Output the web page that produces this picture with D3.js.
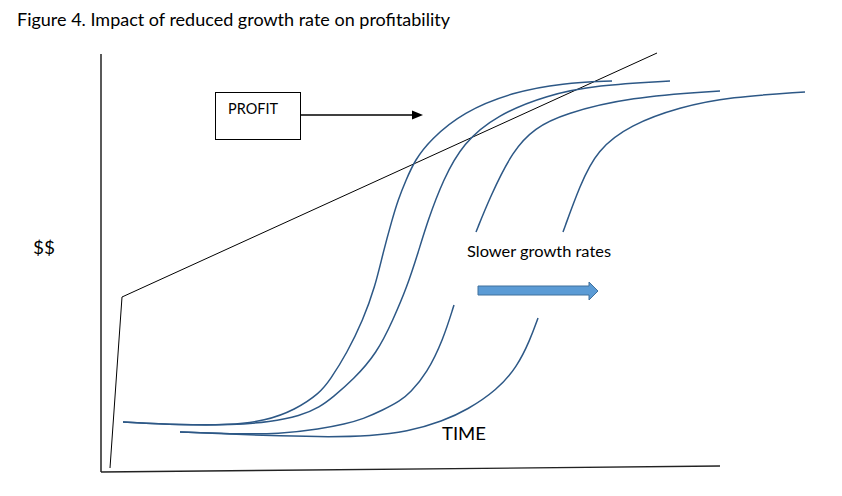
<!DOCTYPE html>
<html>
<head>
<meta charset="utf-8">
<script src="https://cdn.jsdelivr.net/npm/d3@7"></script>
<style>
  html, body { margin: 0; padding: 0; background: #fff; }
  svg { display: block; }
  text { font-family: Lato, "Open Sans", "Liberation Sans", sans-serif; fill: #000; }
</style>
</head>
<body>
<svg id="chart" width="842" height="496"></svg>
<script>
// ---- Data (time units, value units) ----
const titleText = "Figure 4. Impact of reduced growth rate on profitability";
const yLabel = "$$";
const xLabel = "TIME";
const profitLabel = "PROFIT";
const slowerLabel = "Slower growth rates";

// Profit line (time, $$)
const profitLine = [[9, 4], [21, 175], [556, 419]];

// Axes extents
const axisV = [[0, 0], [0, 418]];
const axisH = [[0, 0], [619, 6]];

// Growth S-curves (fastest to slowest); split curves have two pieces
const curve1 = [[22,50],[79,47],[129,47],[164,51],[194,62],[219,79],[229,92],[246,119],[262,152],[274,185],[282,219],[291,252],[297,272],[305,292],[314,312],[329,332],[362,360],[412,380],[462,389],[511,391]];
const curve2 = [[22,50],[79,47],[132,47],[169,50],[199,56],[219,65],[232,75],[252,92],[276,119],[292,152],[306,185],[317,219],[327,252],[342,292],[362,329],[396,357],[446,377],[496,387],[569,391]];
const curve3Low = [[79,40],[129,38],[179,38],[219,43],[244,48],[262,53],[282,62],[299,71],[309,79],[326,99],[342,132],[353,167]];
const curve3High = [[375,240],[389,275],[412,322],[434,344],[462,358],[529,375],[619,381]];
const curve4Low = [[79,40],[129,38],[179,36],[229,35],[269,36],[306,40],[342,51],[366,62],[396,82],[416,105],[429,132],[437,154]];
const curve4High = [[462,240],[479,287],[496,322],[529,347],[579,365],[629,375],[704,380]];

const curves = [curve1, curve2, curve3Low, curve3High, curve4Low, curve4High];

// ---- Drawing ----
const svg = d3.select("#chart");
const x = d3.scaleLinear().domain([0, 620]).range([101, 721]);
const y = d3.scaleLinear().domain([0, 420]).range([472, 52]);

const straight = d3.line().x(d => x(d[0])).y(d => y(d[1]));
const smooth = d3.line().x(d => x(d[0])).y(d => y(d[1])).curve(d3.curveBasis);

// Title
svg.append("text").attr("x", 17).attr("y", 26)
  .attr("font-size", 17).attr("textLength", 433).attr("lengthAdjust", "spacingAndGlyphs")
  .text(titleText);

// Axes
svg.append("path").attr("d", straight(axisV)).attr("fill", "none").attr("stroke", "#000").attr("stroke-width", 1.3);
svg.append("path").attr("d", straight(axisH)).attr("fill", "none").attr("stroke", "#222").attr("stroke-width", 1.3);

// Profit line
svg.append("path").attr("d", straight(profitLine)).attr("fill", "none").attr("stroke", "#000").attr("stroke-width", 1);

// Curves
svg.selectAll("path.curve").data(curves).enter().append("path")
  .attr("class", "curve")
  .attr("d", smooth)
  .attr("fill", "none")
  .attr("stroke", "#2d5886")
  .attr("stroke-width", 1.5);

// Axis labels
svg.append("text").attr("x", 33).attr("y", 254).attr("font-size", 18)
  .attr("textLength", 22).attr("lengthAdjust", "spacingAndGlyphs").text(yLabel);
svg.append("text").attr("x", 442).attr("y", 440).attr("font-size", 18)
  .attr("textLength", 44).attr("lengthAdjust", "spacingAndGlyphs").text(xLabel);

// PROFIT box and arrow
svg.append("rect").attr("x", 215.5).attr("y", 92.5).attr("width", 85).attr("height", 47)
  .attr("fill", "#fff").attr("stroke", "#000").attr("stroke-width", 1);
svg.append("text").attr("x", 228).attr("y", 114).attr("font-size", 14.5)
  .attr("textLength", 50).attr("lengthAdjust", "spacingAndGlyphs").text(profitLabel);
svg.append("line").attr("x1", 301).attr("y1", 115).attr("x2", 414).attr("y2", 115)
  .attr("stroke", "#000").attr("stroke-width", 1.5);
svg.append("path").attr("d", "M412,110.5 L423,115 L412,119.5 Z").attr("fill", "#000");

// Slower growth rates label and block arrow
svg.append("text").attr("x", 467).attr("y", 257).attr("font-size", 15.5)
  .attr("textLength", 144).attr("lengthAdjust", "spacingAndGlyphs").text(slowerLabel);
svg.append("path")
  .attr("d", "M478,286 L589,286 L589,282 L598,291 L589,300 L589,295 L478,295 Z")
  .attr("fill", "#5b9bd5").attr("stroke", "#41719c").attr("stroke-width", 1);
</script>
</body>
</html>
